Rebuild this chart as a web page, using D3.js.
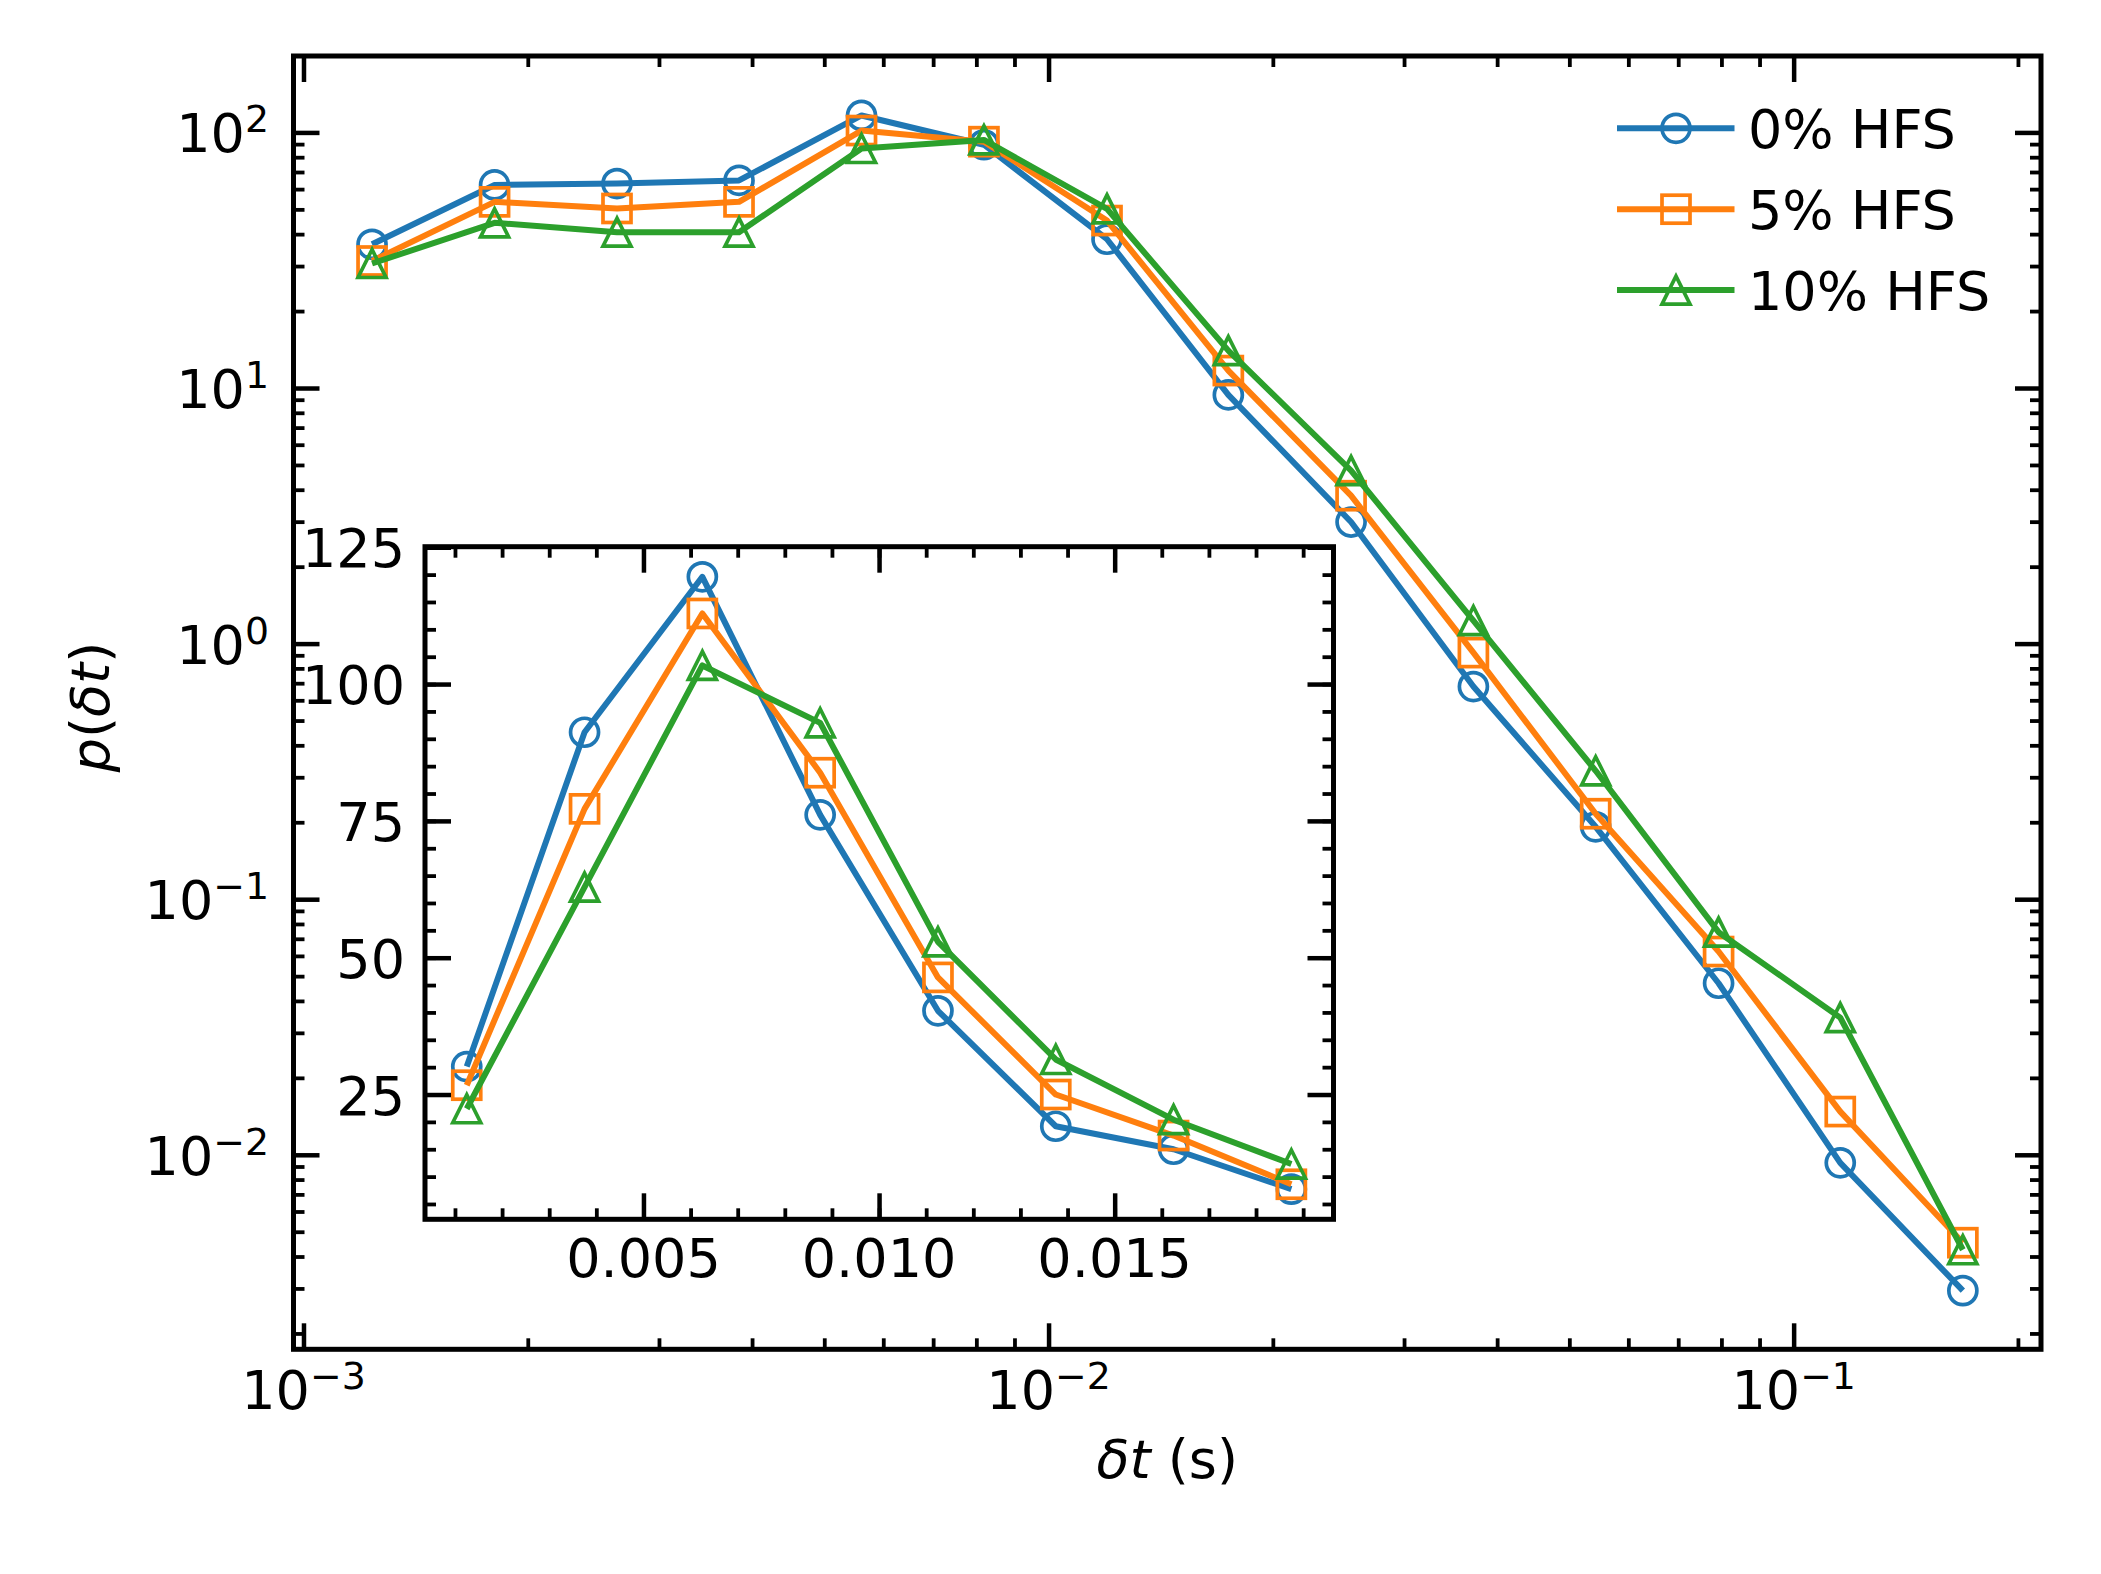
<!DOCTYPE html>
<html>
<head>
<meta charset="utf-8">
<script src="https://cdn.jsdelivr.net/npm/d3@7"></script>
<style>
body { margin: 0; background: #fff; }
svg { display: block; font-family: "DejaVu Sans", sans-serif; }
</style>
</head>
<body>
<div id="chart"></div>
<script>
// main panel, log-spaced bins
const dtMain = [0.001236, 0.001805, 0.002635, 0.003842, 0.00561, 0.00819, 0.01198,
                0.01743, 0.02547, 0.03717, 0.05424, 0.0793, 0.1155, 0.1687];
const hfs0  = [36.5, 62.3, 63.1, 64.9, 116.5, 89.5, 38.2, 9.4, 2.99, 0.679, 0.192, 0.0469, 0.0093, 0.00294];
const hfs5  = [31.4, 53.5, 50.4, 53.5, 101.7, 92.0, 45.2, 11.7, 3.79, 0.922, 0.216, 0.0624, 0.01476, 0.00453];
const hfs10 = [30.7, 44.3, 40.7, 40.7, 86.5, 93.5, 50.2, 14.0, 4.75, 1.23, 0.318, 0.0743, 0.0344, 0.00425];

// inset, linear bins
const dtInset = [0.00125, 0.00375, 0.00625, 0.00875, 0.01125, 0.01375, 0.01625, 0.01875];
const ins0  = [30.1, 91.2, 119.6, 76.1, 40.3, 19.2, 15.0, 7.7];
const ins5  = [26.7, 77.2, 112.9, 83.8, 46.4, 25.0, 17.5, 8.6];
const ins10 = [22.4, 62.9, 103.4, 92.9, 52.9, 31.4, 20.4, 12.3];

const seriesNames = ["0% HFS", "5% HFS", "10% HFS"];
const colors = ["#1f77b4", "#ff7f0e", "#2ca02c"];
const markers = ["circle", "square", "triangle"];

const mainXTicks = [1e-3, 1e-2, 1e-1];
const mainYTicks = [1e-2, 1e-1, 1e0, 1e1, 1e2];
const insetXTicks = [0.005, 0.010, 0.015];
const insetXLabels = ["0.005", "0.010", "0.015"];
const insetYTicks = [25, 50, 75, 100, 125];
const insetYLabels = ["25", "50", "75", "100", "125"];

const W = 2101, H = 1574;
const fs = 54;
const majorLen = 26, minorLen = 11;

const svg = d3.select("#chart").append("svg")
    .attr("width", W).attr("height", H);
svg.append("rect").attr("width", W).attr("height", H).attr("fill", "#fff");

// ---------- main axes
const M = {left: 293.5, right: 2041, top: 56, bottom: 1349.3};
const x = d3.scaleLog().domain([Math.pow(10, -3.0134), Math.pow(10, -0.668)]).range([M.left, M.right]);
const y = d3.scaleLog().domain([Math.pow(10, -2.761), Math.pow(10, 2.299)]).range([M.bottom, M.top]);

function logMinors(scale) {
    const [a, b] = scale.domain();
    const out = [];
    for (let e = -5; e <= 3; e++)
        for (let m = 2; m <= 9; m++) {
            const v = m * Math.pow(10, e);
            if (v > a && v < b) out.push(v);
        }
    return out;
}

function linMinors(scale, step) {
    const [a, b] = scale.domain();
    const out = [];
    for (let k = Math.ceil(a / step); k * step <= b; k++) out.push(+(k * step).toFixed(6));
    return out;
}

// inward ticks on one side, drawn with d3 axis
function tickSide(g, axisFn, scale, values, len, width) {
    g.call(axisFn(scale).tickValues(values).tickSize(-len).tickFormat(""));
    g.select(".domain").remove();
    g.selectAll(".tick text").remove();
    g.selectAll(".tick line").attr("stroke", "#000").attr("stroke-width", width);
}

function frameTicks(g, box, sx, sy, xMaj, xMin, yMaj, yMin) {
    const sides = [
        [d3.axisBottom, sx, `translate(0,${box.bottom})`, xMaj, xMin],
        [d3.axisTop, sx, `translate(0,${box.top})`, xMaj, xMin],
        [d3.axisLeft, sy, `translate(${box.left},0)`, yMaj, yMin],
        [d3.axisRight, sy, `translate(${box.right},0)`, yMaj, yMin]
    ];
    sides.forEach(([fn, sc, tr, maj, min]) => {
        tickSide(g.append("g").attr("transform", tr), fn, sc, min, minorLen, 3.8);
        tickSide(g.append("g").attr("transform", tr), fn, sc, maj, majorLen, 4.5);
    });
    g.append("rect")
        .attr("x", box.left).attr("y", box.top)
        .attr("width", box.right - box.left).attr("height", box.bottom - box.top)
        .attr("fill", "none").attr("stroke", "#000").attr("stroke-width", 5);
}

function marker(g, type, cx, cy, color) {
    const s = 14;
    let m;
    if (type === "circle") {
        m = g.append("circle").attr("cx", cx).attr("cy", cy).attr("r", s);
    } else if (type === "square") {
        m = g.append("rect").attr("x", cx - s).attr("y", cy - s).attr("width", 2 * s).attr("height", 2 * s);
    } else {
        m = g.append("path").attr("d", `M${cx},${cy - s}L${cx - s},${cy + s}L${cx + s},${cy + s}Z`);
    }
    m.attr("fill", "none").attr("stroke", color).attr("stroke-width", 3.7)
        .attr("stroke-linejoin", "miter");
}

function drawSeries(g, sx, sy, xs, ys, i) {
    const pts = xs.map((d, k) => [sx(d), sy(ys[k])]);
    g.append("path")
        .attr("d", d3.line()(pts))
        .attr("fill", "none").attr("stroke", colors[i])
        .attr("stroke-width", 6).attr("stroke-linejoin", "round");
    pts.forEach(p => marker(g, markers[i], p[0], p[1], colors[i]));
}

function pow10(sel, e) {
    sel.append("tspan").text("10");
    sel.append("tspan").attr("dy", -20).attr("font-size", fs * 0.7)
        .text(e < 0 ? "\u2212" + (-e) : String(e));
}

const main = svg.append("g");
const mainData = [hfs0, hfs5, hfs10];
mainData.forEach((ys, i) => drawSeries(main, x, y, dtMain, ys, i));

frameTicks(main, M, x, y, mainXTicks, logMinors(x), mainYTicks, logMinors(y));

main.selectAll(".xlab").data(mainXTicks).join("text")
    .attr("class", "xlab")
    .attr("x", d => x(d)).attr("y", 1409)
    .attr("text-anchor", "middle").attr("font-size", fs)
    .each(function(d) { pow10(d3.select(this), Math.round(Math.log10(d))); });

main.selectAll(".ylab").data(mainYTicks).join("text")
    .attr("class", "ylab")
    .attr("x", 269).attr("y", d => y(d) + 20)
    .attr("text-anchor", "end").attr("font-size", fs)
    .each(function(d) { pow10(d3.select(this), Math.round(Math.log10(d))); });

const xt = main.append("text")
    .attr("x", (M.left + M.right) / 2).attr("y", 1478)
    .attr("text-anchor", "middle").attr("font-size", fs);
xt.append("tspan").attr("font-style", "italic").text("\u03b4t");
xt.append("tspan").text(" (s)");

const yt = main.append("text")
    .attr("transform", `translate(109,707) rotate(-90)`)
    .attr("text-anchor", "middle").attr("font-size", fs);
yt.append("tspan").attr("font-style", "italic").text("p");
yt.append("tspan").text("(");
yt.append("tspan").attr("font-style", "italic").text("\u03b4t");
yt.append("tspan").text(")");

// ---------- legend (no frame)
const leg = svg.append("g");
seriesNames.forEach((name, i) => {
    const ly = 128.3 + i * 80.9;
    leg.append("line")
        .attr("x1", 1617).attr("x2", 1734.5).attr("y1", ly).attr("y2", ly)
        .attr("stroke", colors[i]).attr("stroke-width", 6);
    marker(leg, markers[i], 1676, ly, colors[i]);
    leg.append("text")
        .attr("x", 1748).attr("y", ly + 20)
        .attr("font-size", fs).text(name);
});

// ---------- inset
const I = {left: 425, right: 1333.5, top: 546.7, bottom: 1219.3};
const xi = d3.scaleLinear().domain([0.000364, 0.019644]).range([I.left, I.right]);
const yi = d3.scaleLinear().domain([2.2, 125.1]).range([I.bottom, I.top]);

const ins = svg.append("g");
ins.append("rect")
    .attr("x", I.left).attr("y", I.top)
    .attr("width", I.right - I.left).attr("height", I.bottom - I.top)
    .attr("fill", "#fff");

[ins0, ins5, ins10].forEach((ys, i) => drawSeries(ins, xi, yi, dtInset, ys, i));

frameTicks(ins, I, xi, yi, insetXTicks, linMinors(xi, 0.001), insetYTicks, linMinors(yi, 5));

ins.selectAll(".ixlab").data(insetXTicks).join("text")
    .attr("class", "ixlab")
    .attr("x", d => xi(d)).attr("y", 1277)
    .attr("text-anchor", "middle").attr("font-size", fs)
    .text((d, k) => insetXLabels[k]);

ins.selectAll(".iylab").data(insetYTicks).join("text")
    .attr("class", "iylab")
    .attr("x", 405).attr("y", d => yi(d) + 20)
    .attr("text-anchor", "end").attr("font-size", fs)
    .text((d, k) => insetYLabels[k]);
</script>
</body>
</html>
